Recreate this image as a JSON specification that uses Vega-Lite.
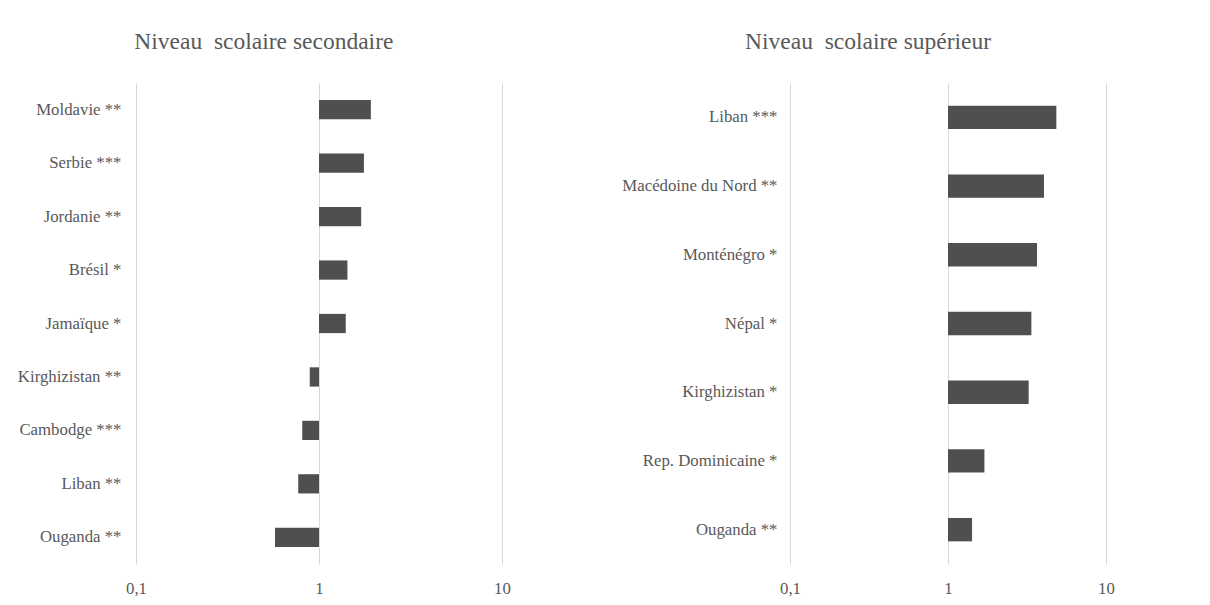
{
  "$schema": "https://vega.github.io/schema/vega-lite/v6.json",
  "background": "white",
  "padding": {"left": 17, "top": 29, "right": 10, "bottom": 8},
  "datasets": {
    "secondaire": [
      {"pays": "Moldavie **", "valeur": 1.92},
      {"pays": "Serbie ***", "valeur": 1.76},
      {"pays": "Jordanie **", "valeur": 1.70},
      {"pays": "Brésil *", "valeur": 1.43},
      {"pays": "Jamaïque *", "valeur": 1.40},
      {"pays": "Kirghizistan **", "valeur": 0.89},
      {"pays": "Cambodge ***", "valeur": 0.81},
      {"pays": "Liban **", "valeur": 0.77},
      {"pays": "Ouganda **", "valeur": 0.575}
    ],
    "superieur": [
      {"pays": "Liban ***", "valeur": 4.85},
      {"pays": "Macédoine du Nord **", "valeur": 4.05},
      {"pays": "Monténégro *", "valeur": 3.66},
      {"pays": "Népal *", "valeur": 3.37},
      {"pays": "Kirghizistan *", "valeur": 3.24},
      {"pays": "Rep. Dominicaine *", "valeur": 1.70},
      {"pays": "Ouganda **", "valeur": 1.42}
    ]
  },
  "config": {
    "font": "Liberation Serif",
    "view": {"stroke": null},
    "concat": {"spacing": 288},
    "title": {"font": "Liberation Serif", "fontSize": 23.5, "fontWeight": "normal", "color": "#595959", "anchor": "middle", "frame": "bounds", "offset": 30},
    "axis": {"labelFont": "Liberation Serif", "labelFontSize": 16.8, "labelColor": "#595959", "domain": false, "ticks": false, "title": null}
  },
  "bounds": "flush",
  "hconcat": [
    {
      "title": "Niveau\u00a0 scolaire secondaire",
      "width": 366,
      "height": 481,
      "data": {"name": "secondaire"},
      "mark": {"type": "bar", "color": "#4f4f4f"},
      "encoding": {
        "y": {"field": "pays", "type": "nominal", "sort": null, "scale": {"paddingInner": 0.64, "paddingOuter": 0.32}, "axis": {"grid": false, "labelPadding": 15}},
        "x": {"field": "valeur", "type": "quantitative", "scale": {"type": "log", "domain": [0.1, 10], "nice": false}, "axis": {"values": [0.1, 1, 10], "grid": true, "gridColor": "#d9d9d9", "gridWidth": 1, "labelPadding": 16, "labelFlush": false, "labelExpr": "replace(format(datum.value, '~g'), '.', ',')"}},
        "x2": {"datum": 1}
      }
    },
    {
      "title": "Niveau\u00a0 scolaire supérieur",
      "width": 316,
      "height": 481,
      "data": {"name": "superieur"},
      "mark": {"type": "bar", "color": "#4f4f4f"},
      "encoding": {
        "y": {"field": "pays", "type": "nominal", "sort": null, "scale": {"paddingInner": 0.66, "paddingOuter": 0.33}, "axis": {"grid": false, "labelPadding": 13}},
        "x": {"field": "valeur", "type": "quantitative", "scale": {"type": "log", "domain": [0.1, 10], "nice": false}, "axis": {"values": [0.1, 1, 10], "grid": true, "gridColor": "#d9d9d9", "gridWidth": 1, "labelPadding": 16, "labelFlush": false, "labelExpr": "replace(format(datum.value, '~g'), '.', ',')"}},
        "x2": {"datum": 1}
      }
    }
  ]
}
